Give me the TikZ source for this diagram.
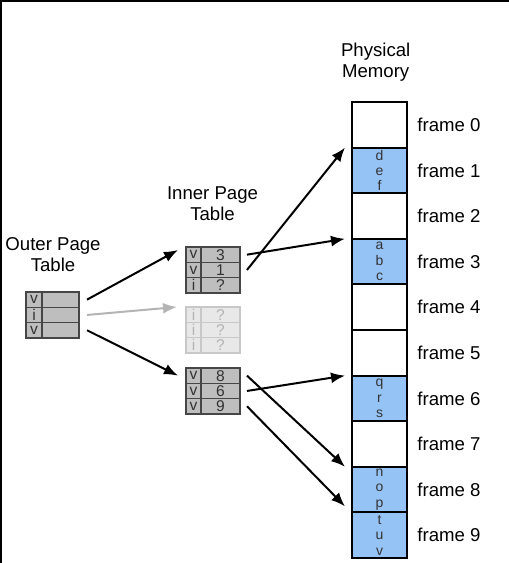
\documentclass[tikz,border=0pt]{standalone}
\usepackage{fontspec}
\setmainfont{Liberation Sans}
\usetikzlibrary{positioning,arrows.meta}
\definecolor{memblue}{RGB}{150,195,246}
\definecolor{tabgray}{RGB}{190,190,190}
\definecolor{tabline}{RGB}{70,70,70}
\definecolor{ghostfill}{RGB}{232,232,232}
\definecolor{ghostline}{RGB}{200,200,200}
\definecolor{ghosttext}{RGB}{180,180,180}
\tikzset{
>={Latex[length=7pt,width=5.5pt]},
  memframe/.style={
    rectangle,
    draw=black, line width=1pt,
    minimum width=27.5pt,
    minimum height=22.8pt,
    inner sep=0pt, outer sep=0pt,
    text=black!80,
    align=center,
    font=\fontsize{7}{7.7}\selectfont},
  used/.style={memframe, fill=memblue},
  framelabel/.style={inner sep=0pt, font=\fontsize{9.3}{10.5}\selectfont},
  memtitle/.style={align=center, inner sep=0pt, font=\fontsize{9.3}{10.5}\selectfont},
  cell/.style={
    rectangle,
    draw=tabline, line width=0.6pt,
    fill=tabgray,
    text=black!80,
    minimum height=7.65pt,
    inner sep=0pt, outer sep=0pt,
    font=\fontsize{7.8}{7.8}\selectfont},
  flag/.style={cell, minimum width=7.5pt},
  entry/.style={cell, minimum width=19.5pt},
  ghost/.style={draw=ghostline, fill=ghostfill, text=ghosttext},
  link/.style={->, line width=1pt},
}

\begin{document}
\begin{tikzpicture}[x=0.5pt, y=-0.5pt]
  \useasboundingbox (0,0) rectangle (509,563);
  \draw[line width=2pt] (0,563) -- (0,0) -- (509,0);
  % physical memory
  \node[memframe] (frame0) at (379.5,124.8) {};
  \node[used, below=0pt of frame0] (frame1) {d\\e\\f};
  \node[memframe, below=0pt of frame1] (frame2) {};
  \node[used, below=0pt of frame2] (frame3) {a\\b\\c};
  \node[memframe, below=0pt of frame3] (frame4) {};
  \node[memframe, below=0pt of frame4] (frame5) {};
  \node[used, below=0pt of frame5] (frame6) {q\\r\\s};
  \node[memframe, below=0pt of frame6] (frame7) {};
  \node[used, below=0pt of frame7] (frame8) {n\\o\\p};
  \node[used, below=0pt of frame8] (frame9) {t\\u\\v};
  \node[framelabel, right=5pt of frame0] (label0) {frame 0};
  \node[framelabel, right=5pt of frame1] (label1) {frame 1};
  \node[framelabel, right=5pt of frame2] (label2) {frame 2};
  \node[framelabel, right=5pt of frame3] (label3) {frame 3};
  \node[framelabel, right=5pt of frame4] (label4) {frame 4};
  \node[framelabel, right=5pt of frame5] (label5) {frame 5};
  \node[framelabel, right=5pt of frame6] (label6) {frame 6};
  \node[framelabel, right=5pt of frame7] (label7) {frame 7};
  \node[framelabel, right=5pt of frame8] (label8) {frame 8};
  \node[framelabel, right=5pt of frame9] (label9) {frame 9};
  \node[memtitle, above=10.2pt of frame0, xshift=-1.9pt] (phys-title) {Physical\\Memory};
  % outer page table
  \node[memtitle] (outer-title) at (53,255) {Outer Page\\Table};
  \node[flag, minimum width=8pt] (outer-flag1) at (34,299.65) {v};
  \node[entry, minimum width=18.5pt, right=0pt of outer-flag1] (outer-entry1) {};
  \node[flag, minimum width=8pt, below=0pt of outer-flag1] (outer-flag2) {i};
  \node[entry, minimum width=18.5pt, right=0pt of outer-flag2] (outer-entry2) {};
  \node[flag, minimum width=8pt, below=0pt of outer-flag2] (outer-flag3) {v};
  \node[entry, minimum width=18.5pt, right=0pt of outer-flag3] (outer-entry3) {};
  % inner page tables
  \node[memtitle] (inner-title) at (212.5,203.5) {Inner Page\\Table};
  \node[flag] (inner1-flag1) at (193.5,254.65) {v};
  \node[entry, right=0pt of inner1-flag1] (inner1-entry1) {3};
  \node[flag, below=0pt of inner1-flag1] (inner1-flag2) {v};
  \node[entry, right=0pt of inner1-flag2] (inner1-entry2) {1};
  \node[flag, below=0pt of inner1-flag2] (inner1-flag3) {i};
  \node[entry, right=0pt of inner1-flag3] (inner1-entry3) {?};
  \node[flag, ghost] (ghost-flag1) at (193.5,314.65) {i};
  \node[entry, ghost, right=0pt of ghost-flag1] (ghost-entry1) {?};
  \node[flag, ghost, below=0pt of ghost-flag1] (ghost-flag2) {i};
  \node[entry, ghost, right=0pt of ghost-flag2] (ghost-entry2) {?};
  \node[flag, ghost, below=0pt of ghost-flag2] (ghost-flag3) {i};
  \node[entry, ghost, right=0pt of ghost-flag3] (ghost-entry3) {?};
  \node[flag] (inner3-flag1) at (193.5,375.65) {v};
  \node[entry, right=0pt of inner3-flag1] (inner3-entry1) {8};
  \node[flag, below=0pt of inner3-flag1] (inner3-flag2) {v};
  \node[entry, right=0pt of inner3-flag2] (inner3-entry2) {6};
  \node[flag, below=0pt of inner3-flag2] (inner3-flag3) {v};
  \node[entry, right=0pt of inner3-flag3] (inner3-entry3) {9};
  % pointers
  \draw[link] ([xshift=4pt]outer-entry1.east) -- ([xshift=-4pt,yshift=-1.5pt]inner1-flag1.north west);
  \draw[link, draw=ghosttext] ([xshift=4pt]outer-entry2.east) -- ([xshift=-4.5pt]ghost-flag1.north west);
  \draw[link] ([xshift=4pt]outer-entry3.east) -- ([xshift=-4pt]inner3-flag1.west);
  \draw[link] ([xshift=3.5pt]inner1-entry1.east) -- ([xshift=-3.5pt]frame3.north west);
  \draw[link] ([xshift=3.5pt]inner1-entry2.east) -- ([xshift=-3.5pt]frame1.north west);
  \draw[link] ([xshift=3.5pt]inner3-entry1.east) -- ([xshift=-3.5pt]frame8.north west);
  \draw[link] ([xshift=3.5pt]inner3-entry2.east) -- ([xshift=-3.5pt]frame6.north west);
  \draw[link] ([xshift=3.5pt]inner3-entry3.east) -- ([xshift=-3.5pt,yshift=3pt]frame9.north west);
\end{tikzpicture}
\end{document}
